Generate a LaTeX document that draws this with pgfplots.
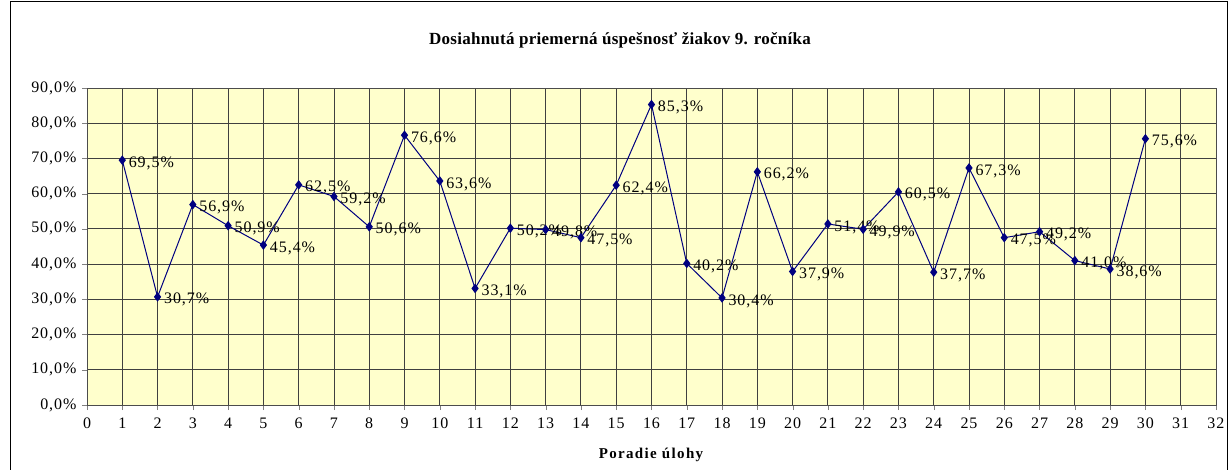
\documentclass[border=0pt]{standalone}
\usepackage{fontspec}
\setmainfont{Liberation Serif}[BoldFont={Liberation Serif Bold}]
\usepackage{pgfplots}
\pgfplotsset{compat=1.18}
\definecolor{plotbg}{HTML}{FFFFCC}
\definecolor{navy}{HTML}{000080}
\newcommand\lbl{\fontsize{16}{18}\selectfont\addfontfeature{LetterSpace=6}}
\begin{document}
\begin{tikzpicture}[x=1pt,y=1pt]
\useasboundingbox (0,0) rectangle (1229,469);
\draw[black, line width=1.2pt] (10.5,-5) rectangle (1227.5,467.5);
\node[font=\fontsize{17}{19}\selectfont\bfseries\addfontfeature{LetterSpace=1.5}] at (620,429) {Dosiahnutá priemerná úspešnosť žiakov 9. ročníka};
\node[font=\fontsize{15}{17}\selectfont\bfseries\addfontfeature{LetterSpace=9}] at (651,14) {Poradie úlohy};
\begin{axis}[
  at={(87pt,64pt)}, anchor=south west,
  scale only axis, width=1129pt, height=317pt,
  xmin=0, xmax=32, ymin=0, ymax=90,
  xtick={0,1,...,32}, ytick={0,10,...,90},
  yticklabels={{0,0\%},{10,0\%},{20,0\%},{30,0\%},{40,0\%},{50,0\%},{60,0\%},{70,0\%},{80,0\%},{90,0\%}},
  /pgf/number format/assume math mode=true,
  tick label style={font=\lbl},
  xticklabel style={yshift=-4pt},
  yticklabel style={xshift=-2pt},
  tick align=outside, tick pos=left,
  major tick length=5pt,
  grid=major,
  major grid style={black!75, line width=0.9pt},
  axis line style={black!70, line width=0.9pt},
  axis background/.style={fill=plotbg},
  clip=false,
]
\addplot[navy, line width=1pt, mark=diamond*, mark size=4pt, mark options={fill=navy,draw=navy},
  point meta=explicit symbolic,
  nodes near coords,
  nodes near coords style={anchor=west, xshift=5pt, yshift=-3pt, font=\lbl, text=black, inner sep=1pt},
] coordinates {
(1,69.5) [69,5\%]
(2,30.7) [30,7\%]
(3,56.9) [56,9\%]
(4,50.9) [50,9\%]
(5,45.4) [45,4\%]
(6,62.5) [62,5\%]
(7,59.2) [59,2\%]
(8,50.6) [50,6\%]
(9,76.6) [76,6\%]
(10,63.6) [63,6\%]
(11,33.1) [33,1\%]
(12,50.2) [50,2\%]
(13,49.8) [49,8\%]
(14,47.5) [47,5\%]
(15,62.4) [62,4\%]
(16,85.3) [85,3\%]
(17,40.2) [40,2\%]
(18,30.4) [30,4\%]
(19,66.2) [66,2\%]
(20,37.9) [37,9\%]
(21,51.4) [51,4\%]
(22,49.9) [49,9\%]
(23,60.5) [60,5\%]
(24,37.7) [37,7\%]
(25,67.3) [67,3\%]
(26,47.5) [47,5\%]
(27,49.2) [49,2\%]
(28,41.0) [41,0\%]
(29,38.6) [38,6\%]
(30,75.6) [75,6\%]
};
\end{axis}
\end{tikzpicture}
\end{document}
